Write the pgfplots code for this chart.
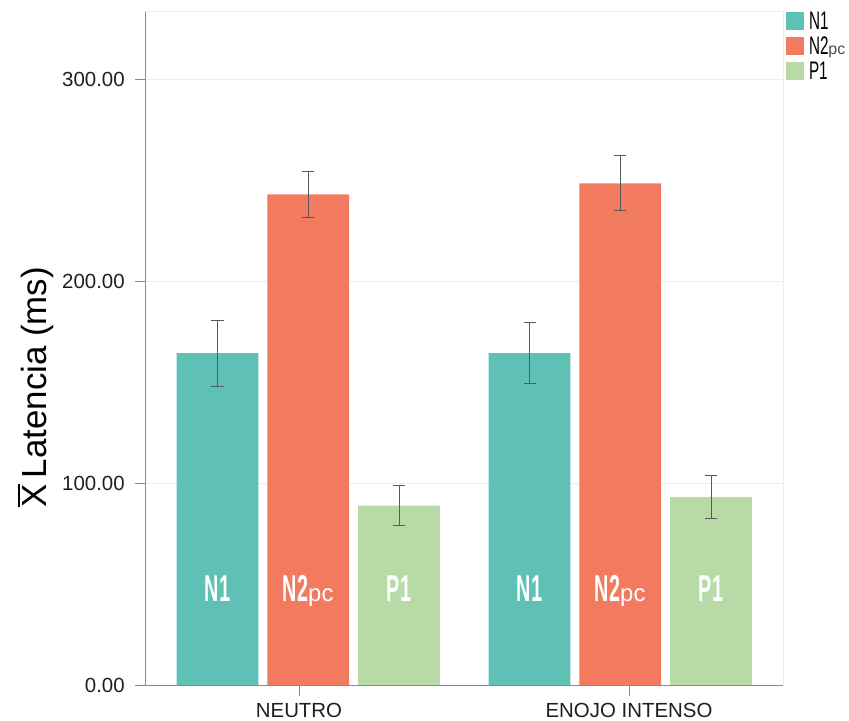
\documentclass[border=0pt]{standalone}
\usepackage{pgfplots}
\pgfplotsset{compat=1.18}
\usepackage{fontspec}
\setmainfont{Liberation Sans}
\newfontfamily\condfont[FakeStretch=0.53]{Liberation Sans}
\newfontfamily\legcond[FakeStretch=0.6]{Liberation Sans}
\definecolor{cNone}{HTML}{5FC0B5}
\definecolor{cNtwo}{HTML}{F27B5F}
\definecolor{cPone}{HTML}{B7DAA6}
\definecolor{gridc}{HTML}{EEEEF0}
\definecolor{spine}{HTML}{8A8A8A}
\newcommand{\barlab}{\condfont\bfseries\fontsize{37.5}{38}\selectfont}
\newcommand{\pcbar}{{\rmfamily\mdseries\fontsize{24}{24}\selectfont pc}}
\pgfplotsset{
  eb/.style={error bars/y dir=both, error bars/y explicit,
    error bars/error bar style={draw=black!65, line width=1bp},
    error bars/error mark options={draw=black!65, mark size=6bp, line width=1bp, rotate=90}},
  sq/.style={legend image code/.code={\fill[##1] (0bp,-9.15bp) rectangle (18.3bp,9.15bp);}},
}
\begin{document}
\begin{tikzpicture}
\begin{axis}[
  at={(0,0)}, anchor=south west,
  width=637.6bp, height=674bp, scale only axis,
  xmin=145.7, xmax=783.3, ymin=0, ymax=333.3,
  clip=false,
  ybar, bar width=81.6, bar shift=0pt,
  xtick={299,629}, xticklabels={NEUTRO, ENOJO INTENSO},
  ytick={0,100,200,300},
  yticklabel style={/pgf/number format/fixed, /pgf/number format/fixed zerofill, /pgf/number format/precision=2, /pgf/number format/assume math mode=true,
    font=\fontsize{20.5}{24}\selectfont, text=black!88, xshift=-7bp},
  xticklabel style={font=\fontsize{20.5}{24}\selectfont, text=black!88, inner sep=0pt, yshift=-6.5bp},
  tick align=outside, tick pos=left, major tick length=10.5bp,
  tick style={draw=spine, line width=1bp},
  axis line style={draw=gridc, line width=1bp},
  ymajorgrids, grid style={draw=gridc, line width=0.8bp},
  ylabel={\vbox{\hrule height 2bp\kern 2.5bp\hbox{X}}\,Latencia (ms)},
  ylabel style={font=\fontsize{35}{40}\selectfont, at={(axis description cs:-0.172,0.443)}, anchor=center},
  legend style={draw=none, fill=none, at={(1,1)}, anchor=north west, xshift=2.4bp,
    inner sep=0pt, outer sep=0pt, row sep=5.9bp, font=\legcond\fontsize{25.5}{26}\selectfont,
    nodes={inner sep=0pt, outer sep=0pt},
    /tikz/every odd column/.append style={column sep=5bp}},
  legend cell align=left,
]
\addplot[fill=cNone, draw=none, sq, eb] coordinates {(217.5,164.4) +- (0,16.2) (529.5,164.4) +- (0,15.1)};
\addlegendentry{N1}
\addplot[fill=cNtwo, draw=none, sq, eb] coordinates {(308.2,243.0) +- (0,11.4) (620.2,248.4) +- (0,13.6)};
\addlegendentry{N2{\rmfamily\fontsize{16}{16}\selectfont\color{black!70}pc}}
\addplot[fill=cPone, draw=none, sq, eb] coordinates {(399.0,89.0) +- (0,9.9) (711.0,93.3) +- (0,10.4)};
\addlegendentry{P1}
\draw[draw=spine, line width=1.2bp] (rel axis cs:0,1) -- (rel axis cs:0,0) -- (rel axis cs:1,0);
\node[font=\barlab, text=white, anchor=base] at (axis cs:217.5,41.5) {N1};
\node[font=\barlab, text=white, anchor=base] at (axis cs:308.2,41.5) {N2\pcbar};
\node[font=\barlab, text=white, anchor=base] at (axis cs:399.0,41.5) {P1};
\node[font=\barlab, text=white, anchor=base] at (axis cs:529.5,41.5) {N1};
\node[font=\barlab, text=white, anchor=base] at (axis cs:620.2,41.5) {N2\pcbar};
\node[font=\barlab, text=white, anchor=base] at (axis cs:711.0,41.5) {P1};
\end{axis}
\pgfresetboundingbox
\path (-145.7bp,-35.3bp) rectangle (703.3bp,685.7bp);
\end{tikzpicture}
\end{document}
